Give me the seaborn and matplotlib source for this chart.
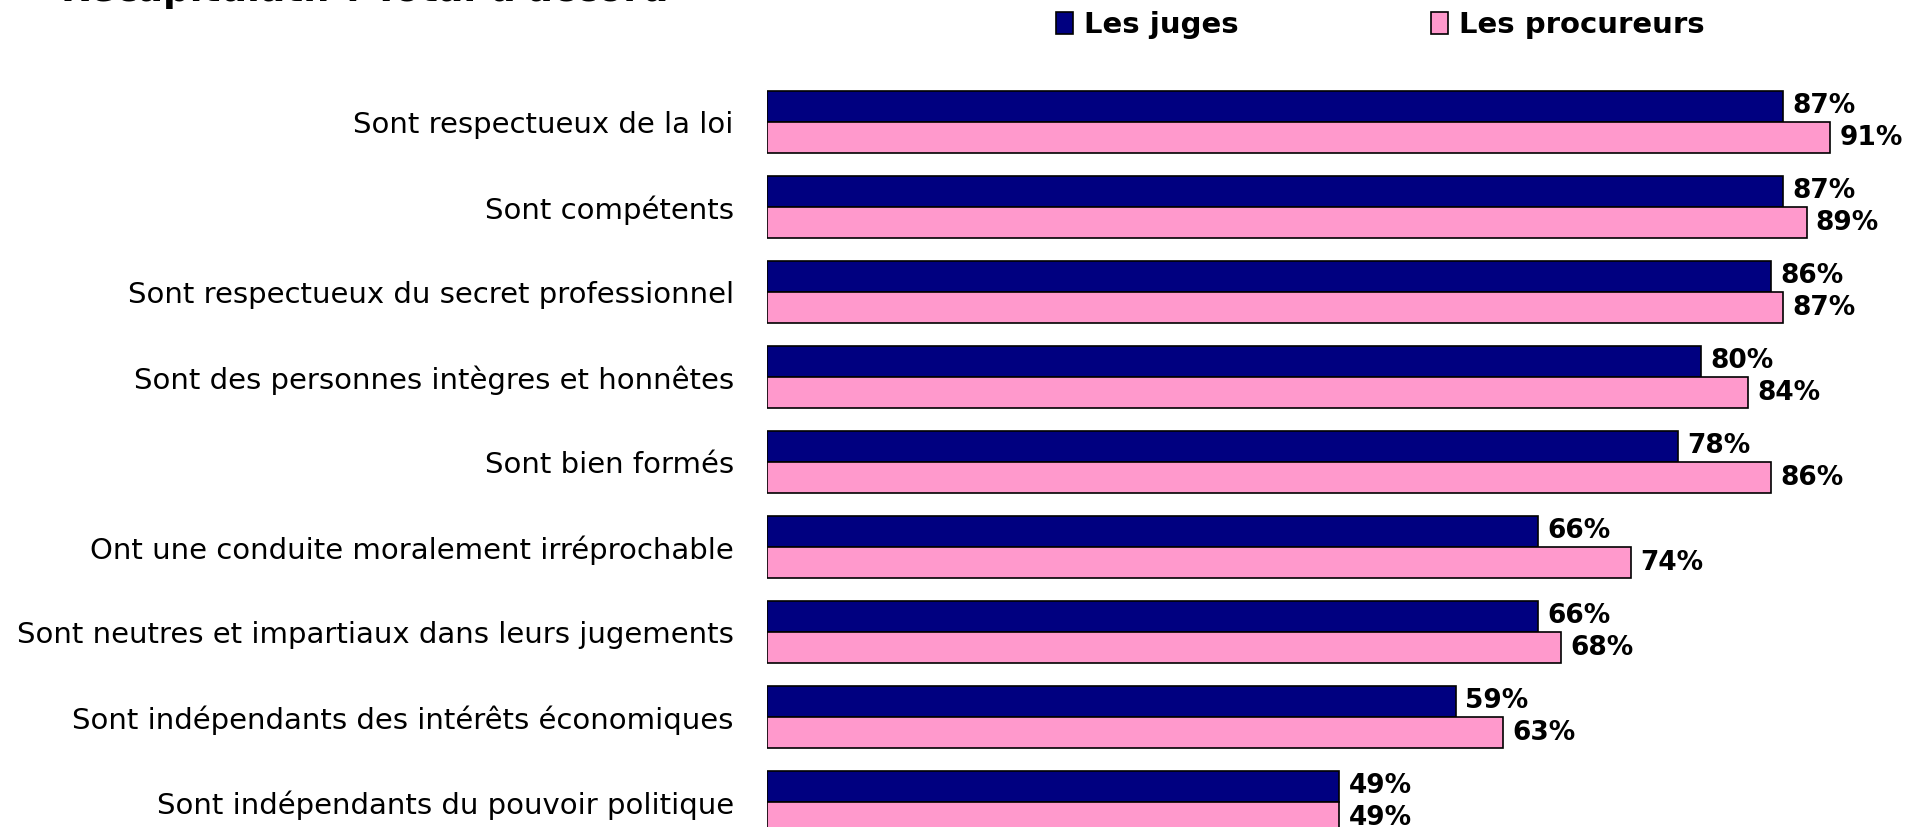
"""Récapitulatif : Total d'accord - juges vs procureurs."""
import matplotlib
matplotlib.use("Agg")
import matplotlib.pyplot as plt
import pandas as pd
import seaborn as sns
from matplotlib.patches import Patch

categories = [
    "Sont respectueux de la loi",
    "Sont compétents",
    "Sont respectueux du secret professionnel",
    "Sont des personnes intègres et honnêtes",
    "Sont bien formés",
    "Ont une conduite moralement irréprochable",
    "Sont neutres et impartiaux dans leurs jugements",
    "Sont indépendants des intérêts économiques",
    "Sont indépendants du pouvoir politique",
]
juges = [87, 87, 86, 80, 78, 66, 66, 59, 49]
procureurs = [91, 89, 87, 84, 86, 74, 68, 63, 49]
series = ["Les juges", "Les procureurs"]
colors = ["#000080", "#FF99CC"]

df = pd.DataFrame({
    "categorie": categories * 2,
    "serie": [series[0]] * len(categories) + [series[1]] * len(categories),
    "valeur": juges + procureurs,
})

sns.set_theme(style="white")
plt.rcParams["font.family"] = ["DejaVu Sans"]
plt.rcParams["text.color"] = "black"
plt.rcParams["ytick.color"] = "black"

W, H = 1908, 827
fig = plt.figure(figsize=(W / 100, H / 100), dpi=100)
left_px = 767
ax = fig.add_axes([left_px / W, 0, 1 - left_px / W, 1])

sns.barplot(
    data=df, y="categorie", x="valeur", hue="serie", order=categories,
    hue_order=series, palette=colors, saturation=1, orient="h", width=0.73,
    edgecolor="black", linewidth=1.2, legend=False, ax=ax,
)

# 1% = 11.68 px, first group centre at 122 px, spacing 85 px
px_per_pct = 11.68
ax.set_xlim(0, (W - left_px) / px_per_pct)
ax.set_ylim((H - 122) / 85, -122 / 85)

for cont in ax.containers:
    for bar in cont:
        w = bar.get_width()
        ax.text(w + 0.8, bar.get_y() + bar.get_height() / 2, f"{w:.0f}%",
                ha="left", va="center", fontsize=19, fontweight="bold",
                color="black")

ax.set_xlabel("")
ax.set_ylabel("")
ax.set_xticks([])
ax.tick_params(axis="y", length=0, pad=24, labelsize=21, labelcolor="black")
for s in ax.spines.values():
    s.set_visible(False)

handles = [Patch(facecolor=c, edgecolor="black", linewidth=1.2) for c in colors]
fig.legend(handles, series, loc="center left",
           bbox_to_anchor=(1056 / W, 1 - 25 / H), ncol=2, frameon=False,
           prop={"size": 21, "weight": "bold"}, handlelength=0.6,
           handleheight=0.8, handletextpad=0.35, columnspacing=6.6,
           borderaxespad=0, borderpad=0)

fig.text(61 / W, 1 + 10 / H, "Récapitulatif : Total d'accord", ha="left",
         va="center", fontsize=27, fontweight="bold")

fig.savefig("out.png", dpi=100)
